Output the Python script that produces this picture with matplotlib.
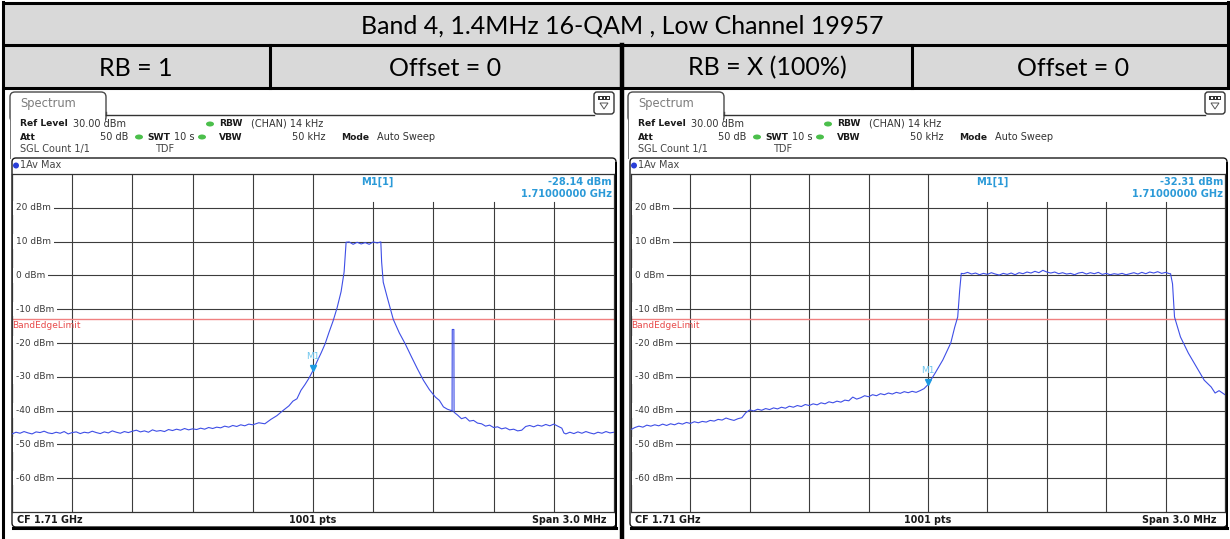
import matplotlib.pyplot as plt
from matplotlib.patches import Rectangle, FancyBboxPatch, Ellipse, Polygon
from matplotlib.transforms import offset_copy

# ---- chart content -------------------------------------------------------
title = "Band 4, 1.4MHz 16-QAM , Low Channel 19957"
headers = ["RB = 1", "Offset = 0", "RB = X (100%)", "Offset = 0"]

level_ticks = [20, 10, 0, -10, -20, -30, -40, -50, -60]
freq_lines = [-1.2, -0.9, -0.6, -0.3, 0.0, 0.3, 0.6, 0.9, 1.2]
limit_level = -13
marker_levels = [-28.14, -32.31]

# RB = 1 trace, offset from CF in MHz / level in dBm
rb1_freq = [-1.50, -1.48, -1.46, -1.44, -1.42, -1.40, -1.38, -1.36, -1.34, -1.32,
            -1.30, -1.28, -1.26, -1.24, -1.22, -1.20, -1.18, -1.16, -1.14, -1.12,
            -1.10, -1.08, -1.06, -1.04, -1.02, -1.00, -0.98, -0.96, -0.94, -0.92,
            -0.90, -0.88, -0.86, -0.84, -0.82, -0.80, -0.78, -0.76, -0.74, -0.72,
            -0.70, -0.68, -0.66, -0.64, -0.62, -0.60, -0.58, -0.56, -0.54, -0.52,
            -0.50, -0.48, -0.46, -0.44, -0.42, -0.40, -0.38, -0.36, -0.34, -0.32,
            -0.30, -0.27, -0.24, -0.21, -0.18, -0.15, -0.12, -0.10, -0.08, -0.06,
            -0.04, -0.02, 0.00, 0.02, 0.04, 0.06, 0.08, 0.10, 0.12, 0.14,
            0.155, 0.165, 0.18, 0.20, 0.22, 0.24, 0.26, 0.28, 0.30, 0.32,
            0.338, 0.342, 0.35, 0.37, 0.40, 0.43, 0.46, 0.49, 0.52, 0.55,
            0.58, 0.61, 0.63, 0.65, 0.67, 0.69, 0.693, 0.694, 0.702, 0.703,
            0.72, 0.74, 0.76, 0.78, 0.80, 0.82, 0.84, 0.86, 0.88, 0.90,
            0.92, 0.94, 0.96, 0.98, 1.00, 1.02, 1.04, 1.06, 1.08, 1.10,
            1.12, 1.14, 1.16, 1.18, 1.20, 1.22, 1.24, 1.25, 1.26, 1.28,
            1.30, 1.32, 1.34, 1.36, 1.38, 1.40, 1.42, 1.44, 1.46, 1.48,
            1.50]
rb1_level = [-46.9, -46.4, -46.7, -46.2, -46.6, -46.9, -46.3, -46.5, -46.1, -46.6,
             -46.8, -46.4, -46.7, -46.2, -46.9, -46.5, -46.3, -46.8, -46.4, -46.6,
             -46.1, -46.5, -46.8, -46.3, -46.6, -46.0, -46.4, -46.7, -46.2, -46.5,
             -46.1, -45.8, -46.3, -46.0, -46.4, -45.7, -46.1, -45.9, -46.2, -45.6,
             -45.9, -45.5, -45.8, -45.3, -45.7, -45.4, -45.6, -45.2, -45.5, -45.0,
             -45.3, -44.9, -45.1, -44.6, -44.9, -44.4, -44.7, -44.2, -44.5, -44.0,
             -44.2, -43.6, -43.9, -42.6, -41.5, -40.0, -38.6, -37.2, -36.5, -34.0,
             -32.3, -30.4, -28.14, -25.5, -23.0, -20.3, -16.8, -13.5, -9.6, -4.8,
             1.0, 9.8, 9.9, 9.2, 9.8, 9.3, 9.7, 9.2, 9.9, 9.6,
             9.9, 4.0, -2.0, -6.5, -13.0, -17.0, -20.3, -24.0, -27.6, -31.0,
             -33.8, -36.0, -37.0, -38.9, -39.6, -40.0, -40.2, -16.0, -16.0, -40.5,
             -41.3, -42.4, -42.0, -43.1, -42.9, -43.7, -43.9, -44.6, -44.3, -45.0,
             -44.8, -45.4, -45.1, -45.7, -45.5, -46.0, -45.8, -44.7, -44.4, -44.8,
             -44.3, -44.6, -44.1, -44.5, -44.0, -44.6, -45.2, -46.6, -46.9, -46.4,
             -46.8, -46.3, -46.7, -46.2, -46.6, -46.9, -46.4, -46.7, -46.2, -46.6,
             -46.4]

# RB = X (100%) trace
rbx_freq = [-1.50, -1.48, -1.46, -1.44, -1.42, -1.40, -1.38, -1.36, -1.34, -1.32,
            -1.30, -1.28, -1.26, -1.24, -1.22, -1.20, -1.18, -1.16, -1.14, -1.12,
            -1.10, -1.08, -1.06, -1.04, -1.02, -1.00, -0.98, -0.96, -0.94, -0.92,
            -0.90, -0.88, -0.86, -0.84, -0.82, -0.80, -0.78, -0.76, -0.74, -0.72,
            -0.70, -0.68, -0.66, -0.64, -0.62, -0.60, -0.58, -0.56, -0.54, -0.52,
            -0.50, -0.48, -0.46, -0.44, -0.42, -0.40, -0.38, -0.36, -0.34, -0.32,
            -0.30, -0.28, -0.26, -0.24, -0.22, -0.20, -0.18, -0.16, -0.14, -0.12,
            -0.10, -0.08, -0.06, -0.04, -0.02, 0.00, 0.035, 0.075, 0.115, 0.135,
            0.15, 0.16, 0.168, 0.18, 0.20, 0.22, 0.24, 0.26, 0.28, 0.30,
            0.32, 0.34, 0.36, 0.38, 0.40, 0.42, 0.44, 0.46, 0.48, 0.50,
            0.52, 0.54, 0.56, 0.58, 0.60, 0.62, 0.64, 0.66, 0.68, 0.70,
            0.72, 0.74, 0.76, 0.78, 0.80, 0.82, 0.84, 0.86, 0.88, 0.90,
            0.92, 0.94, 0.96, 0.98, 1.00, 1.02, 1.04, 1.06, 1.08, 1.10,
            1.12, 1.14, 1.16, 1.18, 1.20, 1.22, 1.225, 1.235, 1.245, 1.275,
            1.315, 1.355, 1.395, 1.43, 1.45, 1.47, 1.50]
rbx_level = [-45.6, -45.0, -44.6, -44.9, -44.3, -44.6, -44.2, -44.5, -44.0, -44.4,
             -43.9, -44.2, -43.7, -44.0, -43.5, -43.8, -43.3, -43.6, -43.2, -43.4,
             -42.9, -43.1, -42.6, -42.8, -42.2, -42.6, -42.9, -42.4, -42.1, -40.6,
             -39.8, -40.1, -39.6, -39.9, -39.4, -39.7, -39.2, -39.5, -39.0, -39.3,
             -38.7, -39.0, -38.5, -38.8, -38.2, -38.5, -38.0, -38.3, -37.7, -38.0,
             -37.4, -37.7, -37.2, -37.5, -36.9, -37.1, -36.0, -36.6, -36.2, -35.6,
             -35.9, -35.3, -35.6, -35.0, -35.3, -34.8, -35.1, -34.6, -34.9, -34.4,
             -34.7, -34.3, -34.6, -34.1, -33.5, -32.31, -29.0, -25.0, -20.0, -15.3,
             -12.3, -4.4, 0.6, 0.5, 0.9, 0.4, 0.7, 0.2, 0.6, 0.3,
             0.8, 0.4, 0.1, 0.6, 0.3, 0.7, 0.2, 0.8, 0.5, 1.0,
             0.7, 1.2, 0.8, 1.5, 1.0, 0.7, 1.0, 0.5, 0.8, 0.4,
             0.6, 0.2, 0.7, 0.9, 0.4, 0.8, 0.5, 0.9, 0.3, 0.6,
             0.2, 0.5, 0.3, 0.6, 0.2, 0.5, 0.8, 0.4, 0.9, 0.5,
             1.0, 0.7, 1.1, 0.6, 0.9, 0.5, 0.5, -2.5, -12.3, -18.2,
             -23.0, -27.0, -31.0, -33.0, -34.8, -34.1, -35.3]

W, H = 1230, 539
fig = plt.figure(figsize=(W / 100, H / 100), dpi=100)

# background axes in pixel coordinates (y down) for the table and the frames
bg = fig.add_axes([0, 0, 1, 1])
bg.set_xlim(0, W)
bg.set_ylim(H, 0)
bg.axis('off')

# ---- word table ------------------------------------------------------------
bg.add_patch(Rectangle((3, 3), 1225, 85, fc='#d9d9d9', ec='none'))
tlw = 2.2
for y in (3, 45, 88):
    bg.plot([3, 1228], [y, y], color='black', lw=tlw, solid_capstyle='butt')
bg.plot([3, 3], [2, H], color='black', lw=tlw)
bg.plot([1228, 1228], [2, 88], color='black', lw=tlw)
bg.plot([270, 270], [45, 88], color='black', lw=tlw)
bg.plot([912, 912], [45, 88], color='black', lw=tlw)
bg.plot([621.5, 621.5], [45, H], color='black', lw=3.2)

tfont = ['Lato', 'DejaVu Sans']
bg.text(622, 26, title, ha='center', va='center', fontsize=18, family=tfont)
for cx, txt in zip([136, 445, 767, 1073], headers):
    bg.text(cx, 68, txt, ha='center', va='center', fontsize=18, family=tfont)


# ---- spectrum analyser screenshots ------------------------------------------
def draw_screen(xl, xr, gx0, gx1, freq, level, m1):
    dark = '#1a1a1a'
    # tab + window border
    bg.add_patch(FancyBboxPatch((xl - 2, 92), 96, 30, boxstyle='round,pad=0,rounding_size=5',
                                fc='white', ec='#4a4a4a', lw=1.0))
    bg.add_patch(Rectangle((xl - 1, 115.5), 94, 8, fc='white', ec='none', zorder=3))
    bg.plot([xl + 94, xl + 94], [112, 115], color='#4a4a4a', lw=1.0)
    bg.plot([xl + 94, xr - 22], [115, 115], color='#333333', lw=1.0)
    bg.plot([xl - 2, xl - 2], [110, 158], color='#777777', lw=0.7, zorder=4)
    bg.text(xl + 8, 104, 'Spectrum', fontsize=8.3, color='#7c7c7c', va='center')
    # small icon box
    bg.add_patch(FancyBboxPatch((xr - 22, 92), 20, 22, boxstyle='round,pad=0,rounding_size=3',
                                fc='white', ec='#333333', lw=1.0))
    bg.add_patch(Rectangle((xr - 18, 96), 12, 4, fc='#333333', ec='none'))
    for k in range(3):
        bg.add_patch(Rectangle((xr - 16 + k * 3.5, 97.3), 1.5, 1.5, fc='white', ec='none'))
    bg.add_patch(Polygon([(xr - 16, 103), (xr - 8, 103), (xr - 12, 109)], closed=True,
                         fc='none', ec='#555555', lw=0.7))

    # settings block
    fs = 7.0
    fb = 6.6
    g = '#4bbf4b'
    bg.text(xl + 8, 124, 'Ref Level', fontsize=fb, weight='bold', va='center', color=dark)
    bg.text(xl + 61, 124, '30.00 dBm', fontsize=fs, va='center', color='#333333')
    bg.add_patch(Ellipse((xl + 198, 124), 8, 5, fc=g, ec='none'))
    bg.text(xl + 207, 124, 'RBW', fontsize=fb, weight='bold', va='center', color=dark)
    bg.text(xl + 239, 124, '(CHAN) 14 kHz', fontsize=fs, va='center', color='#333333')
    bg.text(xl + 8, 137, 'Att', fontsize=fb, weight='bold', va='center', color=dark)
    bg.text(xl + 116, 137, '50 dB', fontsize=fs, va='center', ha='right', color='#333333')
    bg.add_patch(Ellipse((xl + 127, 137), 8, 5, fc=g, ec='none'))
    bg.text(xl + 135, 137, 'SWT', fontsize=fb, weight='bold', va='center', color=dark)
    bg.text(xl + 162, 137, '10 s', fontsize=fs, va='center', color='#333333')
    bg.add_patch(Ellipse((xl + 190, 137), 8, 5, fc=g, ec='none'))
    bg.text(xl + 207, 137, 'VBW', fontsize=fb, weight='bold', va='center', color=dark)
    bg.text(xl + 313, 137, '50 kHz', fontsize=fs, va='center', ha='right', color='#333333')
    bg.text(xl + 329, 137, 'Mode', fontsize=fb, weight='bold', va='center', color=dark)
    bg.text(xl + 365, 137, 'Auto Sweep', fontsize=fs, va='center', color='#333333')
    bg.text(xl + 8, 149, 'SGL Count 1/1', fontsize=fs, va='center', color='#444444')
    bg.text(xl + 143, 149, 'TDF', fontsize=fs, va='center', color='#444444')

    # diagram frame
    bg.add_patch(FancyBboxPatch((xl, 158), xr - xl, 369, boxstyle='round,pad=0,rounding_size=4',
                                fc='white', ec=dark, lw=1.0))
    bg.plot([xl + 1, xr], [527.5, 527.5], color='black', lw=2.2)
    bg.plot([xr, xr], [163, 527.5], color='black', lw=1.4)
    bg.add_patch(Ellipse((xl + 4, 165.5), 6, 6, fc='#2a3fd8', ec='none'))
    bg.text(xl + 8, 165.5, '1Av Max', fontsize=7.0, va='center', color='#444444')
    gc = (gx0 + gx1) / 2
    bg.text(xl + 5, 520, 'CF 1.71 GHz', fontsize=6.9, weight='bold', va='center', color=dark)
    bg.text(gc, 520, '1001 pts', fontsize=6.9, weight='bold', va='center', ha='center', color=dark)
    bg.text(gx1 - 8, 520, 'Span 3.0 MHz', fontsize=6.9, weight='bold', va='center', ha='right',
            color=dark)

    # grid area
    ax = fig.add_axes([gx0 / W, 1 - 512 / H, (gx1 - gx0) / W, 338 / H])
    ax.set_xlim(-1.5, 1.5)
    ax.set_ylim(-70, 30)
    ax.set_xticks([])
    ax.set_yticks([])
    for s in ax.spines.values():
        s.set_color('#333333')
        s.set_linewidth(0.9)
    gcol = '#3c3c3c'
    for v in level_ticks:
        ax.axhline(v, color=gcol, lw=0.8, zorder=1)
        ax.annotate(f'{v} dBm', xy=(0, v), xycoords=('axes fraction', 'data'),
                    xytext=(4, 0), textcoords='offset pixels', ha='left', va='center',
                    fontsize=6.5, color='#3a3a3a', zorder=4,
                    bbox=dict(boxstyle='square,pad=0.3', fc='white', ec='none'))
    for f in freq_lines:
        top = 1.0 if f <= 0 else 0.916
        ax.axvline(f, ymin=0, ymax=top, color=gcol, lw=0.8, zorder=1)

    # limit line
    ax.axhline(limit_level, color='#f08080', lw=1.0, zorder=2)
    ax.annotate('BandEdgeLimit', xy=(0, limit_level), xycoords=('axes fraction', 'data'),
                xytext=(0, -6), textcoords='offset pixels', ha='left', va='center',
                fontsize=6.5, color='#e84a4a', zorder=4)

    # trace
    ax.plot(freq, level, color='#3e4ee6', lw=0.8, zorder=3)

    # marker
    mtr = offset_copy(ax.transData, fig=fig, x=0, y=3, units='dots')
    ax.plot([0], [m1], marker='v', ms=5, color='#1d9ae0', transform=mtr, zorder=5)
    ax.annotate('M1', xy=(0, m1), xytext=(0, 14), textcoords='offset pixels', ha='center',
                va='center', fontsize=6.5, color='#6ec6ee', zorder=5)

    mc = '#2b9ad8'
    bg_t = bg.transData
    ax.text(gc + 64, 182, 'M1[1]', transform=bg_t, fontsize=7.1, weight='bold', color=mc,
            ha='center', va='center', clip_on=False)
    ax.text(gx1 - 2, 182, f'{m1:.2f} dBm', transform=bg_t, fontsize=7.1, weight='bold',
            color=mc, ha='right', va='center', clip_on=False)
    ax.text(gx1 - 2, 194, '1.71000000 GHz', transform=bg_t, fontsize=7.1, weight='bold',
            color=mc, ha='right', va='center', clip_on=False)
    return ax


draw_screen(12, 616, 12, 614, rb1_freq, rb1_level, marker_levels[0])
draw_screen(630, 1227, 631, 1225, rbx_freq, rbx_level, marker_levels[1])

fig.savefig('out.png', dpi=100)
